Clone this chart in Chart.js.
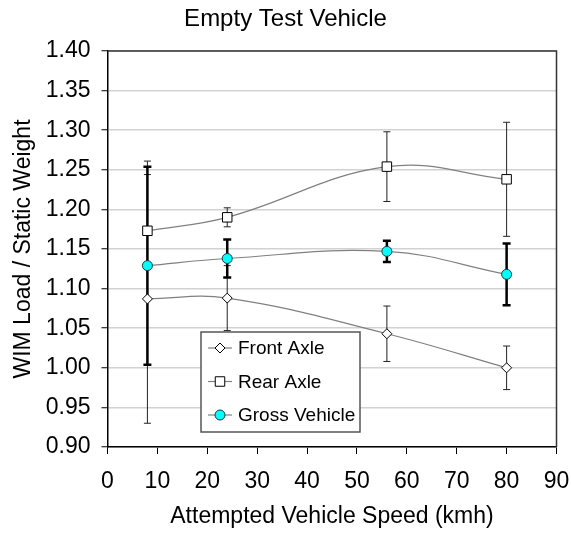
<!DOCTYPE html>
<html>
<head>
<meta charset="utf-8">
<script src="https://cdn.jsdelivr.net/npm/chart.js@4/dist/chart.umd.min.js"></script>
<style>
  html, body { margin: 0; padding: 0; background: #fff; }
  #wrap { width: 571px; height: 533px; }
</style>
</head>
<body>
<div id="wrap"><canvas id="wimChart" width="571" height="533"></canvas></div>
<script>
/* ── data ── */
const speeds       = [8, 24, 56, 80];
const frontAxle    = [1.087, 1.088, 1.043, 1.000];
const frontErr     = [0.157, 0.041, 0.035, 0.0275];
const rearAxle     = [1.173, 1.190, 1.254, 1.238];
const rearErr      = [0.088, 0.012, 0.044, 0.072];
const grossVehicle = [1.129, 1.138, 1.147, 1.118];
const grossErr     = [0.125, 0.024, 0.0135, 0.039];
const xTickValues  = [0, 10, 20, 30, 40, 50, 60, 70, 80, 90];
const yTickValues  = [0.90, 0.95, 1.00, 1.05, 1.10, 1.15, 1.20, 1.25, 1.30, 1.35, 1.40];

const FONT = '"Liberation Sans", Arial, sans-serif';

function points(vals){ return speeds.map((s, i) => ({ x: s, y: vals[i] })); }

/* ── error bars, frame, titles, in-plot legend ── */
const overlay = {
  id: 'overlay',
  beforeDatasetsDraw(chart){
    const { ctx, scales: { x, y } } = chart;
    const sets = [
      { vals: frontAxle,    err: frontErr, w: 1,   cap: 3.5, color: '#222' },
      { vals: rearAxle,     err: rearErr,  w: 1,   cap: 3.5, color: '#222' },
      { vals: grossVehicle, err: grossErr, w: 2.5, cap: 4,   color: '#000' }
    ];
    ctx.save();
    sets.forEach(s => {
      ctx.strokeStyle = s.color;
      ctx.lineWidth = s.w;
      speeds.forEach((sp, i) => {
        const px  = x.getPixelForValue(sp);
        const top = y.getPixelForValue(s.vals[i] + s.err[i]);
        const bot = y.getPixelForValue(s.vals[i] - s.err[i]);
        ctx.beginPath();
        ctx.moveTo(px, top); ctx.lineTo(px, bot);
        ctx.moveTo(px - s.cap, top); ctx.lineTo(px + s.cap, top);
        ctx.moveTo(px - s.cap, bot); ctx.lineTo(px + s.cap, bot);
        ctx.stroke();
      });
    });
    ctx.restore();
  },
  afterDraw(chart){
    const { ctx, chartArea: a } = chart;
    ctx.save();
    // top + right frame
    ctx.strokeStyle = '#333';
    ctx.lineWidth = 1.5;
    ctx.beginPath();
    ctx.moveTo(a.left, a.top); ctx.lineTo(a.right, a.top); ctx.lineTo(a.right, a.bottom);
    ctx.stroke();

    ctx.fillStyle = '#000';
    ctx.textAlign = 'center';
    ctx.textBaseline = 'middle';
    ctx.font = `24px ${FONT}`;
    ctx.fillText('Empty Test Vehicle', 285.5, 19);
    ctx.font = `23px ${FONT}`;
    ctx.fillText('Attempted Vehicle Speed (kmh)', (a.left + a.right) / 2, 517);
    ctx.translate(24, (a.top + a.bottom) / 2);
    ctx.rotate(-Math.PI / 2);
    ctx.fillText('WIM Load / Static Weight', 0, 0);
    ctx.setTransform(1, 0, 0, 1, 0, 0);

    // legend box
    const lx = 201, ly = 332, lw = 159, lh = 100;
    ctx.fillStyle = '#fff';
    ctx.fillRect(lx, ly, lw, lh);
    ctx.strokeStyle = '#555';
    ctx.lineWidth = 1.5;
    ctx.strokeRect(lx, ly, lw, lh);

    const items = chart.data.datasets;
    const rows = [348, 381.5, 415];
    ctx.font = `19px ${FONT}`;
    ctx.textAlign = 'left';
    items.forEach((ds, i) => {
      const cy = rows[i];
      ctx.strokeStyle = '#808080';
      ctx.lineWidth = 1.2;
      ctx.beginPath(); ctx.moveTo(208, cy); ctx.lineTo(232, cy); ctx.stroke();
      ctx.fillStyle = ds.pointBackgroundColor;
      ctx.strokeStyle = ds.pointBorderColor;
      ctx.lineWidth = 1;
      ctx.beginPath();
      if (ds.pointStyle === 'rectRot'){
        const r = ds.pointRadius;
        ctx.moveTo(220, cy - r); ctx.lineTo(220 + r, cy); ctx.lineTo(220, cy + r); ctx.lineTo(220 - r, cy); ctx.closePath();
      } else if (ds.pointStyle === 'rect'){
        const h = ds.pointRadius * Math.SQRT1_2;
        ctx.rect(220 - h, cy - h, 2 * h, 2 * h);
      } else {
        ctx.arc(220, cy, ds.pointRadius, 0, Math.PI * 2);
      }
      ctx.fill(); ctx.stroke();
      ctx.fillStyle = '#000';
      ctx.fillText(ds.label, 238, cy + 1);
    });
    ctx.restore();
  }
};

const lineBase = { borderColor: '#808080', borderWidth: 1.2, tension: 0.4, pointBorderWidth: 1, pointHoverRadius: 5 };

new Chart(document.getElementById('wimChart'), {
  type: 'line',
  data: {
    datasets: [
      { ...lineBase, label: 'Front Axle',    data: points(frontAxle),    order: 3,
        pointStyle: 'rectRot', pointRadius: 5,   pointBackgroundColor: '#fff',    pointBorderColor: '#000' },
      { ...lineBase, label: 'Rear Axle',     data: points(rearAxle),     order: 2,
        pointStyle: 'rect',    pointRadius: 6.7, pointBackgroundColor: '#fff',    pointBorderColor: '#000' },
      { ...lineBase, label: 'Gross Vehicle', data: points(grossVehicle), order: 1,
        pointStyle: 'circle',  pointRadius: 5,   pointBackgroundColor: '#00ffff', pointBorderColor: '#1a3a3a' }
    ]
  },
  options: {
    responsive: false,
    animation: false,
    devicePixelRatio: 1,
    layout: { padding: { top: 51, right: 14.5, bottom: 0, left: 0 } },
    plugins: { legend: { display: false }, title: { display: false }, tooltip: { enabled: false } },
    scales: {
      x: {
        type: 'linear', min: 0, max: 90,
        afterFit: s => { s.height = 86; s.paddingLeft = 0; s.paddingRight = 0; },
        afterBuildTicks: s => { s.ticks = xTickValues.map(v => ({ value: v })); },
        ticks: { color: '#000', font: { family: FONT, size: 23 }, padding: 14, maxRotation: 0 },
        grid: { drawOnChartArea: false, drawTicks: true, tickLength: 7, tickColor: '#000', tickWidth: 1 },
        border: { display: true, color: '#000', width: 1.5 }
      },
      y: {
        type: 'linear', min: 0.9, max: 1.4,
        afterFit: s => { s.width = 107.5; },
        afterBuildTicks: s => { s.ticks = yTickValues.map(v => ({ value: v })); },
        ticks: { color: '#000', font: { family: FONT, size: 23 }, padding: 11, callback: v => Number(v).toFixed(2) },
        grid: { color: '#d2d2d2', lineWidth: 1.5, tickLength: 6, tickColor: '#000', tickWidth: 1 },
        border: { display: true, color: '#000', width: 1.5 }
      }
    }
  },
  plugins: [overlay]
});
</script>
</body>
</html>
